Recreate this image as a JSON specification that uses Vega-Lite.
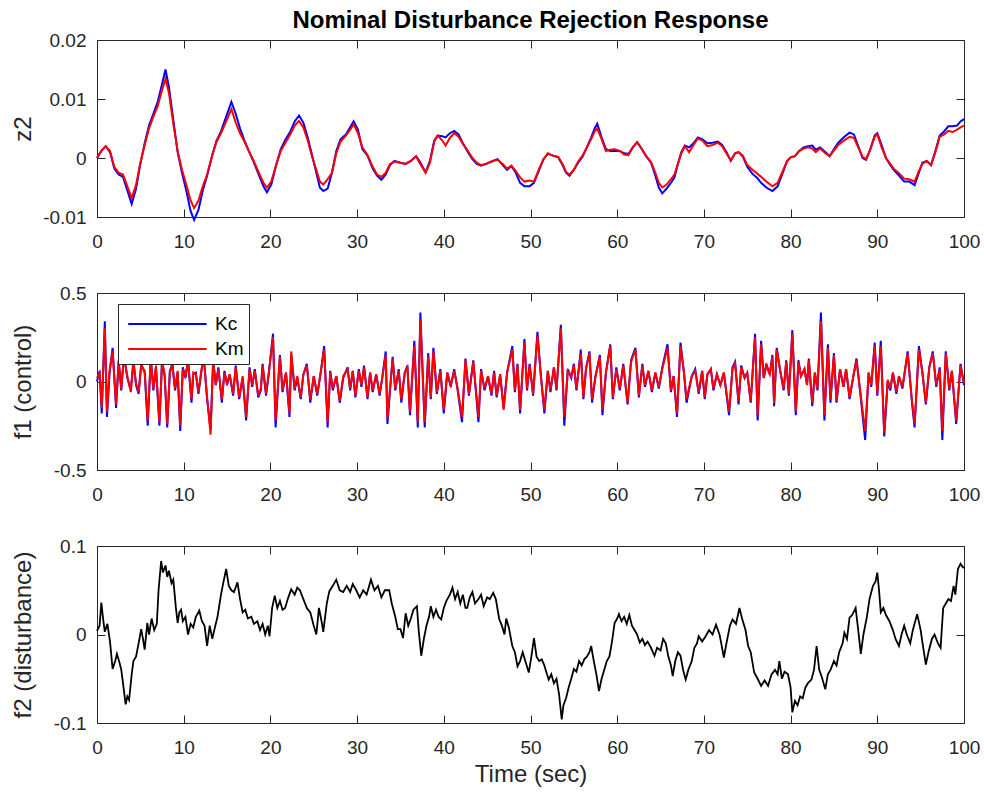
{
"$schema": "https://vega.github.io/schema/vega-lite/v6.json",
"background": "white",
"padding": {"left": 10, "top": 9, "right": 10, "bottom": 8},
"spacing": 33,
"config": {
 "view": {"stroke": null},
 "font": "Liberation Sans",
 "axis": {"domainColor": "#262626", "tickColor": "#262626", "labelColor": "#262626", "titleColor": "#262626", "labelFont": "Liberation Sans", "titleFont": "Liberation Sans", "labelFontSize": 19, "titleFontSize": 24, "titleFontWeight": "normal", "tickSize": -8, "grid": false, "domainWidth": 1, "tickWidth": 1, "labelFlush": false, "labelOverlap": false, "labelExpr": "'' + datum.value"},
 "axisLeft": {"labelPadding": 19},
 "axisBottom": {"labelPadding": 23}
},
"resolve": {"scale": {"color": "independent"}, "legend": {"color": "independent"}},
"datasets": {
"z2": [
{"t":0,"Kc":0,"Km":0},{"t":0.5,"Kc":0.0012,"Km":0.0012},{"t":1,"Kc":0.002,"Km":0.002},{"t":1.5,"Kc":0.001,"Km":0.0012},{"t":2,"Kc":-0.0018,"Km":-0.0015},{"t":2.5,"Kc":-0.0028,"Km":-0.0025},{"t":3,"Kc":-0.0032,"Km":-0.0028},{"t":3.5,"Kc":-0.0055,"Km":-0.0048},{"t":4,"Kc":-0.0078,"Km":-0.0068},{"t":4.5,"Kc":-0.0052,"Km":-0.0046},{"t":5,"Kc":-0.001,"Km":-0.0008},{"t":5.5,"Kc":0.0025,"Km":0.0022},{"t":6,"Kc":0.0055,"Km":0.005},{"t":6.5,"Kc":0.0075,"Km":0.007},{"t":7,"Kc":0.0095,"Km":0.0088},{"t":7.5,"Kc":0.0125,"Km":0.0115},{"t":7.9,"Kc":0.015,"Km":0.0134},{"t":8.3,"Kc":0.012,"Km":0.011},{"t":8.8,"Kc":0.0065,"Km":0.0058},{"t":9.3,"Kc":0.001,"Km":0.0012},{"t":9.8,"Kc":-0.0025,"Km":-0.002},{"t":10.3,"Kc":-0.0055,"Km":-0.0045},{"t":10.8,"Kc":-0.009,"Km":-0.0072},{"t":11.2,"Kc":-0.0105,"Km":-0.0085},{"t":11.7,"Kc":-0.0088,"Km":-0.0072},{"t":12.2,"Kc":-0.0055,"Km":-0.0048},{"t":12.7,"Kc":-0.003,"Km":-0.0028},{"t":13.3,"Kc":0.0005,"Km":0.0005},{"t":13.8,"Kc":0.003,"Km":0.0028},{"t":14.3,"Kc":0.0045,"Km":0.0042},{"t":14.9,"Kc":0.007,"Km":0.0062},{"t":15.5,"Kc":0.0095,"Km":0.0083},{"t":16,"Kc":0.0075,"Km":0.006},{"t":16.5,"Kc":0.005,"Km":0.0042},{"t":17,"Kc":0.003,"Km":0.0028},{"t":17.5,"Kc":0.0012,"Km":0.0012},{"t":18.1,"Kc":-0.0008,"Km":-0.0006},{"t":18.7,"Kc":-0.003,"Km":-0.0026},{"t":19.2,"Kc":-0.0048,"Km":-0.0042},{"t":19.6,"Kc":-0.0058,"Km":-0.005},{"t":20.1,"Kc":-0.0045,"Km":-0.004},{"t":20.7,"Kc":-0.001,"Km":-0.001},{"t":21.2,"Kc":0.0015,"Km":0.0012},{"t":21.7,"Kc":0.003,"Km":0.0025},{"t":22.3,"Kc":0.0045,"Km":0.004},{"t":22.8,"Kc":0.0062,"Km":0.0055},{"t":23.3,"Kc":0.0072,"Km":0.0063},{"t":23.8,"Kc":0.006,"Km":0.0052},{"t":24.3,"Kc":0.0035,"Km":0.003},{"t":24.8,"Kc":0.0005,"Km":0.0002},{"t":25.3,"Kc":-0.0025,"Km":-0.002},{"t":25.7,"Kc":-0.005,"Km":-0.004},{"t":26.1,"Kc":-0.0056,"Km":-0.0045},{"t":26.6,"Kc":-0.0052,"Km":-0.0036},{"t":27.1,"Kc":-0.0025,"Km":-0.0025},{"t":27.6,"Kc":0.0012,"Km":0.0008},{"t":28.1,"Kc":0.0032,"Km":0.0028},{"t":28.7,"Kc":0.004,"Km":0.0038},{"t":29.2,"Kc":0.0052,"Km":0.0048},{"t":29.6,"Kc":0.0062,"Km":0.0057},{"t":30.1,"Kc":0.0048,"Km":0.0042},{"t":30.6,"Kc":0.0015,"Km":0.0018},{"t":31.2,"Kc":0.0004,"Km":0.0005},{"t":31.8,"Kc":-0.0018,"Km":-0.0015},{"t":32.3,"Kc":-0.003,"Km":-0.0028},{"t":32.8,"Kc":-0.0037,"Km":-0.0032},{"t":33.3,"Kc":-0.0028,"Km":-0.0025},{"t":33.8,"Kc":-0.0012,"Km":-0.001},{"t":34.3,"Kc":-0.0005,"Km":-0.0006},{"t":35,"Kc":-0.0008,"Km":-0.0008},{"t":35.6,"Kc":-0.001,"Km":-0.001},{"t":36.2,"Kc":-0.0005,"Km":-0.0005},{"t":36.8,"Kc":0.0003,"Km":0.0003},{"t":37.2,"Kc":-0.0005,"Km":-0.0008},{"t":37.9,"Kc":-0.0024,"Km":-0.0025},{"t":38.4,"Kc":-0.0005,"Km":-0.0008},{"t":38.9,"Kc":0.003,"Km":0.0028},{"t":39.3,"Kc":0.0038,"Km":0.0038},{"t":39.8,"Kc":0.0037,"Km":0.003},{"t":40.2,"Kc":0.0035,"Km":0.0021},{"t":40.7,"Kc":0.0042,"Km":0.0034},{"t":41.2,"Kc":0.0046,"Km":0.0042},{"t":41.7,"Kc":0.004,"Km":0.0036},{"t":42.2,"Kc":0.0025,"Km":0.0024},{"t":42.7,"Kc":0.0012,"Km":0.0014},{"t":43.3,"Kc":-0.0002,"Km":0},{"t":43.8,"Kc":-0.001,"Km":-0.0008},{"t":44.3,"Kc":-0.0013,"Km":-0.0012},{"t":44.9,"Kc":-0.001,"Km":-0.001},{"t":45.5,"Kc":-0.0006,"Km":-0.0006},{"t":46.2,"Kc":-0.0002,"Km":-0.0003},{"t":46.8,"Kc":-0.0012,"Km":-0.001},{"t":47.3,"Kc":-0.002,"Km":-0.0018},{"t":47.8,"Kc":-0.0014,"Km":-0.0013},{"t":48.3,"Kc":-0.0025,"Km":-0.0022},{"t":48.8,"Kc":-0.0042,"Km":-0.0033},{"t":49.3,"Kc":-0.0048,"Km":-0.004},{"t":49.9,"Kc":-0.0048,"Km":-0.0038},{"t":50.4,"Kc":-0.0042,"Km":-0.004},{"t":51,"Kc":-0.002,"Km":-0.0018},{"t":51.5,"Kc":-0.0002,"Km":-0.0002},{"t":52,"Kc":0.0007,"Km":0.0008},{"t":52.6,"Kc":0.0004,"Km":0.0004},{"t":53.2,"Kc":0.0001,"Km":0.0002},{"t":53.7,"Kc":-0.0012,"Km":-0.001},{"t":54.1,"Kc":-0.0025,"Km":-0.0024},{"t":54.5,"Kc":-0.003,"Km":-0.0028},{"t":55,"Kc":-0.002,"Km":-0.002},{"t":55.5,"Kc":-0.0008,"Km":-0.0006},{"t":56,"Kc":0.0002,"Km":0.0004},{"t":56.5,"Kc":0.0018,"Km":0.0018},{"t":57,"Kc":0.0035,"Km":0.0032},{"t":57.4,"Kc":0.005,"Km":0.0045},{"t":57.7,"Kc":0.0058,"Km":0.005},{"t":58.2,"Kc":0.0035,"Km":0.0032},{"t":58.7,"Kc":0.0015,"Km":0.0012},{"t":59.2,"Kc":0.0012,"Km":0.0014},{"t":59.7,"Kc":0.0012,"Km":0.0015},{"t":60.3,"Kc":0.0012,"Km":0.0012},{"t":60.8,"Kc":0.0008,"Km":0.0006},{"t":61.3,"Kc":0.0007,"Km":0.0005},{"t":61.8,"Kc":0.0018,"Km":0.0018},{"t":62.3,"Kc":0.0027,"Km":0.0027},{"t":62.8,"Kc":0.0016,"Km":0.0016},{"t":63.3,"Kc":0.0004,"Km":0.0004},{"t":63.9,"Kc":-0.0008,"Km":-0.0007},{"t":64.4,"Kc":-0.003,"Km":-0.0025},{"t":64.8,"Kc":-0.005,"Km":-0.0042},{"t":65.2,"Kc":-0.006,"Km":-0.005},{"t":65.7,"Kc":-0.0052,"Km":-0.0045},{"t":66.2,"Kc":-0.0042,"Km":-0.0036},{"t":66.6,"Kc":-0.0033,"Km":-0.0028},{"t":67,"Kc":-0.001,"Km":-0.001},{"t":67.4,"Kc":0.001,"Km":0.0008},{"t":67.8,"Kc":0.0021,"Km":0.002},{"t":68.3,"Kc":0.0018,"Km":0.001},{"t":68.8,"Kc":0.0025,"Km":0.0022},{"t":69.3,"Kc":0.0035,"Km":0.0033},{"t":69.8,"Kc":0.0032,"Km":0.003},{"t":70.4,"Kc":0.0025,"Km":0.002},{"t":71,"Kc":0.0026,"Km":0.0022},{"t":71.6,"Kc":0.0028,"Km":0.0026},{"t":72.1,"Kc":0.0022,"Km":0.002},{"t":72.6,"Kc":0.001,"Km":0.0008},{"t":73.1,"Kc":-0.0005,"Km":-0.0004},{"t":73.6,"Kc":0.0008,"Km":0.0008},{"t":74,"Kc":0.001,"Km":0.001},{"t":74.5,"Kc":0.0002,"Km":0.0004},{"t":75,"Kc":-0.0015,"Km":-0.0012},{"t":75.6,"Kc":-0.0027,"Km":-0.002},{"t":76.1,"Kc":-0.0033,"Km":-0.0026},{"t":76.6,"Kc":-0.0042,"Km":-0.0032},{"t":77.2,"Kc":-0.005,"Km":-0.004},{"t":77.9,"Kc":-0.0056,"Km":-0.0048},{"t":78.5,"Kc":-0.0048,"Km":-0.0042},{"t":79.1,"Kc":-0.0025,"Km":-0.0022},{"t":79.6,"Kc":-0.0005,"Km":-0.0005},{"t":80,"Kc":0.0001,"Km":0.0001},{"t":80.5,"Kc":0.0003,"Km":0.0003},{"t":81,"Kc":0.0012,"Km":0.0012},{"t":81.5,"Kc":0.0018,"Km":0.0016},{"t":82,"Kc":0.002,"Km":0.0018},{"t":82.5,"Kc":0.0021,"Km":0.0016},{"t":82.9,"Kc":0.0014,"Km":0.001},{"t":83.4,"Kc":0.0018,"Km":0.0016},{"t":84,"Kc":0.001,"Km":0.0008},{"t":84.5,"Kc":0.0003,"Km":0.0003},{"t":85,"Kc":0.0015,"Km":0.0013},{"t":85.5,"Kc":0.0026,"Km":0.0022},{"t":86.2,"Kc":0.0036,"Km":0.003},{"t":86.8,"Kc":0.0043,"Km":0.0036},{"t":87.3,"Kc":0.004,"Km":0.0034},{"t":87.8,"Kc":0.002,"Km":0.0018},{"t":88.3,"Kc":0,"Km":0.0002},{"t":88.7,"Kc":-0.0003,"Km":-0.0002},{"t":89.2,"Kc":0.0015,"Km":0.0015},{"t":89.7,"Kc":0.0038,"Km":0.0036},{"t":90,"Kc":0.0042,"Km":0.004},{"t":90.5,"Kc":0.0022,"Km":0.0018},{"t":91,"Kc":0,"Km":0},{"t":91.5,"Kc":-0.0012,"Km":-0.001},{"t":91.9,"Kc":-0.002,"Km":-0.0018},{"t":92.5,"Kc":-0.003,"Km":-0.0026},{"t":93.1,"Kc":-0.004,"Km":-0.0035},{"t":93.7,"Kc":-0.004,"Km":-0.0036},{"t":94.3,"Kc":-0.0046,"Km":-0.004},{"t":94.8,"Kc":-0.0025,"Km":-0.0022},{"t":95.2,"Kc":-0.0008,"Km":-0.001},{"t":95.7,"Kc":-0.0005,"Km":-0.0005},{"t":96.2,"Kc":-0.0012,"Km":-0.0012},{"t":96.7,"Kc":0.0012,"Km":0.001},{"t":97.2,"Kc":0.0038,"Km":0.0036},{"t":97.7,"Kc":0.0045,"Km":0.004},{"t":98.2,"Kc":0.0054,"Km":0.0046},{"t":98.7,"Kc":0.0054,"Km":0.0044},{"t":99.2,"Kc":0.0055,"Km":0.0048},{"t":99.6,"Kc":0.0062,"Km":0.0052},{"t":100,"Kc":0.0066,"Km":0.0055}
],
"f1": [
{"t":0,"Kc":0,"Km":0.02},{"t":0.3,"Kc":0.06,"Km":0.05},{"t":0.55,"Kc":-0.18,"Km":-0.15},{"t":0.9,"Kc":0.34,"Km":0.3},{"t":1.15,"Kc":-0.2,"Km":-0.17},{"t":1.45,"Kc":0.05,"Km":0.06},{"t":1.8,"Kc":0.19,"Km":0.17},{"t":2.2,"Kc":-0.15,"Km":-0.13},{"t":2.5,"Kc":0.12,"Km":0.11},{"t":2.8,"Kc":-0.05,"Km":-0.04},{"t":3.1,"Kc":0.15,"Km":0.14},{"t":3.5,"Kc":0.02,"Km":0.03},{"t":3.9,"Kc":-0.05,"Km":-0.06},{"t":4.2,"Kc":0.12,"Km":0.11},{"t":4.5,"Kc":-0.02,"Km":-0.01},{"t":4.8,"Kc":-0.07,"Km":-0.06},{"t":5.1,"Kc":0.1,"Km":0.09},{"t":5.5,"Kc":0.05,"Km":0.06},{"t":5.85,"Kc":-0.25,"Km":-0.22},{"t":6.2,"Kc":0.14,"Km":0.13},{"t":6.5,"Kc":-0.05,"Km":-0.04},{"t":6.8,"Kc":0.08,"Km":0.09},{"t":7.2,"Kc":-0.25,"Km":-0.23},{"t":7.5,"Kc":0.12,"Km":0.11},{"t":7.8,"Kc":0.03,"Km":0.04},{"t":8.1,"Kc":-0.26,"Km":-0.24},{"t":8.4,"Kc":0.06,"Km":0.05},{"t":8.7,"Kc":0.1,"Km":0.09},{"t":9,"Kc":-0.05,"Km":-0.04},{"t":9.3,"Kc":0.05,"Km":0.06},{"t":9.6,"Kc":-0.28,"Km":-0.25},{"t":9.9,"Kc":0.08,"Km":0.07},{"t":10.2,"Kc":0.02,"Km":0.03},{"t":10.5,"Kc":0.12,"Km":0.11},{"t":10.9,"Kc":-0.12,"Km":-0.1},{"t":11.1,"Kc":0.04,"Km":0.05},{"t":11.4,"Kc":0.05,"Km":0.04},{"t":11.7,"Kc":-0.07,"Km":-0.06},{"t":12,"Kc":0.04,"Km":0.05},{"t":12.3,"Kc":0.15,"Km":0.14},{"t":12.7,"Kc":-0.1,"Km":-0.09},{"t":13.1,"Kc":-0.27,"Km":-0.3},{"t":13.4,"Kc":0.12,"Km":0.12},{"t":13.7,"Kc":-0.02,"Km":-0.02},{"t":14,"Kc":0.08,"Km":0.07},{"t":14.4,"Kc":-0.12,"Km":-0.1},{"t":14.7,"Kc":0.06,"Km":0.05},{"t":15,"Kc":-0.02,"Km":-0.01},{"t":15.3,"Kc":0.04,"Km":0.04},{"t":15.7,"Kc":-0.08,"Km":-0.07},{"t":16,"Kc":0.09,"Km":0.08},{"t":16.4,"Kc":-0.1,"Km":-0.09},{"t":16.8,"Kc":0.02,"Km":0.03},{"t":17.2,"Kc":-0.22,"Km":-0.2},{"t":17.6,"Kc":0.08,"Km":0.07},{"t":17.9,"Kc":-0.03,"Km":-0.02},{"t":18.2,"Kc":0.07,"Km":0.06},{"t":18.6,"Kc":-0.09,"Km":-0.08},{"t":18.9,"Kc":-0.05,"Km":-0.04},{"t":19.1,"Kc":0.1,"Km":0.09},{"t":19.5,"Kc":-0.08,"Km":-0.07},{"t":19.8,"Kc":0.04,"Km":0.04},{"t":20.3,"Kc":0.27,"Km":0.25},{"t":20.6,"Kc":-0.26,"Km":-0.22},{"t":21.1,"Kc":0.15,"Km":0.14},{"t":21.4,"Kc":-0.06,"Km":-0.05},{"t":21.8,"Kc":0.05,"Km":0.05},{"t":22.2,"Kc":-0.2,"Km":-0.18},{"t":22.4,"Kc":0.15,"Km":0.17},{"t":22.8,"Kc":-0.05,"Km":-0.04},{"t":23.1,"Kc":0.02,"Km":0.03},{"t":23.5,"Kc":-0.1,"Km":-0.09},{"t":23.8,"Kc":0.04,"Km":0.04},{"t":24.2,"Kc":0.1,"Km":0.09},{"t":24.6,"Kc":-0.12,"Km":-0.1},{"t":25,"Kc":0.03,"Km":0.03},{"t":25.4,"Kc":-0.08,"Km":-0.07},{"t":25.8,"Kc":0.05,"Km":0.05},{"t":26.2,"Kc":0.2,"Km":0.18},{"t":26.6,"Kc":-0.26,"Km":-0.23},{"t":26.9,"Kc":0.06,"Km":0.05},{"t":27.2,"Kc":-0.05,"Km":-0.04},{"t":27.6,"Kc":0.03,"Km":0.03},{"t":28,"Kc":-0.12,"Km":-0.11},{"t":28.4,"Kc":0.02,"Km":0.03},{"t":28.9,"Kc":0.08,"Km":0.07},{"t":29.2,"Kc":-0.05,"Km":-0.04},{"t":29.5,"Kc":0.06,"Km":0.06},{"t":29.8,"Kc":-0.09,"Km":-0.08},{"t":30.2,"Kc":0.07,"Km":0.06},{"t":30.5,"Kc":-0.03,"Km":-0.02},{"t":30.8,"Kc":0.09,"Km":0.08},{"t":31.2,"Kc":-0.1,"Km":-0.09},{"t":31.5,"Kc":0.05,"Km":0.05},{"t":31.8,"Kc":-0.06,"Km":-0.05},{"t":32.2,"Kc":0.04,"Km":0.04},{"t":32.6,"Kc":-0.08,"Km":-0.07},{"t":32.9,"Kc":0.02,"Km":0.02},{"t":33.3,"Kc":0.17,"Km":0.15},{"t":33.5,"Kc":-0.24,"Km":-0.21},{"t":34.1,"Kc":0.14,"Km":0.13},{"t":34.4,"Kc":-0.05,"Km":-0.04},{"t":34.8,"Kc":0.07,"Km":0.06},{"t":35.1,"Kc":-0.12,"Km":-0.1},{"t":35.5,"Kc":0.05,"Km":0.05},{"t":35.8,"Kc":0.09,"Km":0.08},{"t":36.1,"Kc":-0.19,"Km":-0.17},{"t":36.6,"Kc":0.23,"Km":0.2},{"t":37,"Kc":-0.26,"Km":-0.23},{"t":37.3,"Kc":0.39,"Km":0.35},{"t":37.8,"Kc":-0.26,"Km":-0.23},{"t":38.2,"Kc":0.16,"Km":0.14},{"t":38.5,"Kc":-0.1,"Km":-0.09},{"t":38.8,"Kc":0.19,"Km":0.17},{"t":39.2,"Kc":-0.07,"Km":-0.06},{"t":39.6,"Kc":0.07,"Km":0.06},{"t":40,"Kc":-0.18,"Km":-0.16},{"t":40.4,"Kc":0.05,"Km":0.05},{"t":40.8,"Kc":-0.03,"Km":-0.02},{"t":41.2,"Kc":0.07,"Km":0.06},{"t":41.6,"Kc":-0.05,"Km":-0.04},{"t":42.1,"Kc":-0.23,"Km":-0.2},{"t":42.5,"Kc":0.13,"Km":0.12},{"t":42.9,"Kc":-0.08,"Km":-0.07},{"t":43.4,"Kc":0.12,"Km":0.11},{"t":44,"Kc":-0.23,"Km":-0.2},{"t":44.3,"Kc":0.07,"Km":0.06},{"t":44.7,"Kc":-0.05,"Km":-0.04},{"t":45.1,"Kc":0.03,"Km":0.03},{"t":45.5,"Kc":-0.08,"Km":-0.07},{"t":45.8,"Kc":0.06,"Km":0.05},{"t":46.1,"Kc":-0.09,"Km":-0.08},{"t":46.5,"Kc":0.04,"Km":0.04},{"t":46.9,"Kc":-0.15,"Km":-0.16},{"t":47.3,"Kc":0.05,"Km":0.05},{"t":47.9,"Kc":0.2,"Km":0.18},{"t":48.2,"Kc":-0.06,"Km":-0.05},{"t":48.5,"Kc":0.1,"Km":0.09},{"t":48.8,"Kc":-0.18,"Km":-0.16},{"t":49.3,"Kc":0.24,"Km":0.22},{"t":49.6,"Kc":-0.05,"Km":-0.04},{"t":49.9,"Kc":0.1,"Km":0.09},{"t":50.3,"Kc":-0.08,"Km":-0.07},{"t":50.8,"Kc":0.28,"Km":0.26},{"t":51.2,"Kc":0.03,"Km":0.03},{"t":51.6,"Kc":-0.18,"Km":-0.16},{"t":52,"Kc":0.06,"Km":0.06},{"t":52.3,"Kc":-0.06,"Km":-0.05},{"t":52.7,"Kc":0.08,"Km":0.08},{"t":53,"Kc":-0.05,"Km":-0.04},{"t":53.5,"Kc":0.32,"Km":0.3},{"t":53.9,"Kc":-0.25,"Km":-0.2},{"t":54.3,"Kc":0.07,"Km":0.06},{"t":54.7,"Kc":0.02,"Km":0.03},{"t":55,"Kc":0.1,"Km":0.09},{"t":55.3,"Kc":-0.05,"Km":-0.04},{"t":55.8,"Kc":0.18,"Km":0.16},{"t":56.1,"Kc":-0.1,"Km":-0.09},{"t":56.4,"Kc":0.07,"Km":0.07},{"t":56.8,"Kc":0.17,"Km":0.16},{"t":57.1,"Kc":-0.12,"Km":-0.1},{"t":57.5,"Kc":0.03,"Km":0.03},{"t":58,"Kc":0.15,"Km":0.14},{"t":58.3,"Kc":-0.19,"Km":-0.16},{"t":58.7,"Kc":0.05,"Km":0.05},{"t":59.2,"Kc":0.21,"Km":0.2},{"t":59.5,"Kc":-0.1,"Km":-0.09},{"t":59.9,"Kc":0.08,"Km":0.07},{"t":60.3,"Kc":-0.05,"Km":-0.04},{"t":60.7,"Kc":0.1,"Km":0.09},{"t":61.2,"Kc":-0.13,"Km":-0.12},{"t":61.6,"Kc":0.12,"Km":0.11},{"t":62.1,"Kc":0.19,"Km":0.18},{"t":62.5,"Kc":-0.09,"Km":-0.08},{"t":62.9,"Kc":0.1,"Km":0.09},{"t":63.2,"Kc":-0.03,"Km":-0.02},{"t":63.6,"Kc":0.06,"Km":0.06},{"t":64,"Kc":-0.06,"Km":-0.05},{"t":64.4,"Kc":0.05,"Km":0.05},{"t":64.8,"Kc":-0.04,"Km":-0.03},{"t":65.2,"Kc":0.08,"Km":0.07},{"t":65.8,"Kc":0.21,"Km":0.19},{"t":66.2,"Kc":-0.06,"Km":-0.05},{"t":66.5,"Kc":0.03,"Km":0.03},{"t":66.9,"Kc":-0.2,"Km":-0.18},{"t":67.3,"Kc":0.22,"Km":0.2},{"t":67.7,"Kc":0.05,"Km":0.05},{"t":68,"Kc":-0.12,"Km":-0.1},{"t":68.6,"Kc":0.03,"Km":0.03},{"t":69,"Kc":0.07,"Km":0.06},{"t":69.4,"Kc":-0.07,"Km":-0.06},{"t":69.8,"Kc":0.06,"Km":0.06},{"t":70.1,"Kc":-0.1,"Km":-0.09},{"t":70.4,"Kc":0.04,"Km":0.04},{"t":70.8,"Kc":0.07,"Km":0.07},{"t":71.1,"Kc":-0.05,"Km":-0.04},{"t":71.5,"Kc":0.04,"Km":0.04},{"t":71.9,"Kc":-0.02,"Km":-0.02},{"t":72.3,"Kc":0.05,"Km":0.05},{"t":72.9,"Kc":-0.19,"Km":-0.17},{"t":73.3,"Kc":0.08,"Km":0.07},{"t":73.6,"Kc":0.11,"Km":0.1},{"t":74,"Kc":-0.13,"Km":-0.11},{"t":74.3,"Kc":0.09,"Km":0.08},{"t":74.7,"Kc":0.02,"Km":0.02},{"t":75,"Kc":0.05,"Km":0.05},{"t":75.4,"Kc":-0.12,"Km":-0.11},{"t":75.9,"Kc":0.27,"Km":0.25},{"t":76.2,"Kc":-0.22,"Km":-0.19},{"t":76.6,"Kc":0.23,"Km":0.21},{"t":76.9,"Kc":0.02,"Km":0.02},{"t":77.2,"Kc":0.1,"Km":0.09},{"t":77.6,"Kc":0.04,"Km":0.04},{"t":77.9,"Kc":0.15,"Km":0.14},{"t":78.1,"Kc":-0.14,"Km":-0.12},{"t":78.4,"Kc":0.19,"Km":0.18},{"t":78.8,"Kc":0.06,"Km":0.06},{"t":79.2,"Kc":-0.05,"Km":-0.04},{"t":79.5,"Kc":0.12,"Km":0.11},{"t":79.8,"Kc":-0.08,"Km":-0.07},{"t":80.2,"Kc":0.29,"Km":0.27},{"t":80.6,"Kc":-0.19,"Km":-0.17},{"t":80.9,"Kc":0.12,"Km":0.11},{"t":81.2,"Kc":0.03,"Km":0.03},{"t":81.6,"Kc":0.07,"Km":0.07},{"t":81.9,"Kc":-0.02,"Km":-0.02},{"t":82.1,"Kc":0.13,"Km":0.12},{"t":82.5,"Kc":-0.14,"Km":-0.12},{"t":82.8,"Kc":0.05,"Km":0.05},{"t":83.1,"Kc":-0.05,"Km":-0.04},{"t":83.5,"Kc":0.39,"Km":0.34},{"t":83.9,"Kc":-0.22,"Km":-0.19},{"t":84.3,"Kc":0.21,"Km":0.19},{"t":84.6,"Kc":-0.12,"Km":-0.1},{"t":85,"Kc":0.16,"Km":0.15},{"t":85.3,"Kc":-0.12,"Km":-0.11},{"t":85.7,"Kc":0.07,"Km":0.07},{"t":86.1,"Kc":-0.03,"Km":-0.03},{"t":86.4,"Kc":0.07,"Km":0.07},{"t":86.8,"Kc":-0.1,"Km":-0.09},{"t":87.2,"Kc":0.02,"Km":0.02},{"t":87.6,"Kc":0.13,"Km":0.12},{"t":88,"Kc":-0.05,"Km":-0.04},{"t":88.6,"Kc":-0.33,"Km":-0.28},{"t":89,"Kc":0.05,"Km":0.05},{"t":89.3,"Kc":-0.03,"Km":-0.02},{"t":89.7,"Kc":0.22,"Km":0.2},{"t":90,"Kc":-0.08,"Km":-0.07},{"t":90.4,"Kc":0.23,"Km":0.2},{"t":90.8,"Kc":-0.31,"Km":-0.29},{"t":91.2,"Kc":0,"Km":0.01},{"t":91.5,"Kc":-0.05,"Km":-0.04},{"t":91.8,"Kc":0.05,"Km":0.05},{"t":92.2,"Kc":-0.07,"Km":-0.06},{"t":92.5,"Kc":0.03,"Km":0.03},{"t":92.9,"Kc":-0.04,"Km":-0.03},{"t":93.5,"Kc":0.17,"Km":0.16},{"t":94,"Kc":-0.12,"Km":-0.11},{"t":94.3,"Kc":-0.26,"Km":-0.24},{"t":94.8,"Kc":0.2,"Km":0.18},{"t":95.2,"Kc":0.05,"Km":0.05},{"t":95.6,"Kc":-0.13,"Km":-0.12},{"t":96,"Kc":0.08,"Km":0.08},{"t":96.4,"Kc":0.17,"Km":0.16},{"t":96.8,"Kc":-0.03,"Km":-0.02},{"t":97.2,"Kc":0.08,"Km":0.07},{"t":97.5,"Kc":-0.33,"Km":-0.28},{"t":97.9,"Kc":0.17,"Km":0.16},{"t":98.3,"Kc":-0.05,"Km":-0.04},{"t":98.6,"Kc":0.06,"Km":0.06},{"t":99.1,"Kc":-0.24,"Km":-0.22},{"t":99.6,"Kc":0.1,"Km":0.09},{"t":100,"Kc":-0.02,"Km":-0.01}
],
"f2": [
{"t":0,"v":0.004},{"t":0.3,"v":0.01},{"t":0.5,"v":0.036},{"t":0.7,"v":0.018},{"t":0.9,"v":0.003},{"t":1.2,"v":0.012},{"t":1.5,"v":-0.008},{"t":1.8,"v":-0.039},{"t":2.1,"v":-0.03},{"t":2.3,"v":-0.022},{"t":2.6,"v":-0.032},{"t":2.8,"v":-0.04},{"t":3,"v":-0.055},{"t":3.3,"v":-0.079},{"t":3.5,"v":-0.07},{"t":3.7,"v":-0.074},{"t":4,"v":-0.045},{"t":4.2,"v":-0.03},{"t":4.5,"v":-0.025},{"t":4.8,"v":-0.01},{"t":5.1,"v":0.006},{"t":5.3,"v":-0.005},{"t":5.5,"v":-0.017},{"t":5.8,"v":0.013},{"t":6,"v":0},{"t":6.3,"v":0.018},{"t":6.6,"v":0.005},{"t":6.9,"v":0.012},{"t":7.1,"v":0.05},{"t":7.4,"v":0.083},{"t":7.6,"v":0.07},{"t":7.9,"v":0.078},{"t":8.1,"v":0.065},{"t":8.3,"v":0.072},{"t":8.6,"v":0.058},{"t":8.8,"v":0.062},{"t":9.1,"v":0.03},{"t":9.3,"v":0.013},{"t":9.5,"v":0.025},{"t":9.7,"v":0.028},{"t":9.9,"v":0.015},{"t":10.2,"v":0.02},{"t":10.5,"v":0},{"t":10.8,"v":0.012},{"t":11.1,"v":0.008},{"t":11.4,"v":0.02},{"t":11.8,"v":0.027},{"t":12.1,"v":0.015},{"t":12.4,"v":0.01},{"t":12.7,"v":-0.013},{"t":13,"v":0.01},{"t":13.3,"v":-0.005},{"t":13.6,"v":0.008},{"t":13.9,"v":0.02},{"t":14.3,"v":0.045},{"t":14.6,"v":0.06},{"t":14.9,"v":0.074},{"t":15.2,"v":0.055},{"t":15.5,"v":0.05},{"t":15.8,"v":0.048},{"t":16.2,"v":0.059},{"t":16.5,"v":0.04},{"t":16.8,"v":0.025},{"t":17.1,"v":0.028},{"t":17.4,"v":0.018},{"t":17.8,"v":0.02},{"t":18.1,"v":0.012},{"t":18.5,"v":0.015},{"t":18.8,"v":0.005},{"t":19.1,"v":0.012},{"t":19.4,"v":0},{"t":19.7,"v":0.01},{"t":19.9,"v":-0.002},{"t":20.2,"v":0.03},{"t":20.5,"v":0.044},{"t":20.8,"v":0.03},{"t":21.1,"v":0.038},{"t":21.4,"v":0.028},{"t":21.7,"v":0.03},{"t":22,"v":0.04},{"t":22.4,"v":0.051},{"t":22.8,"v":0.045},{"t":23.1,"v":0.053},{"t":23.4,"v":0.05},{"t":23.8,"v":0.04},{"t":24.2,"v":0.03},{"t":24.6,"v":0.025},{"t":25,"v":0.01},{"t":25.3,"v":0},{"t":25.6,"v":0.03},{"t":25.9,"v":0.015},{"t":26.1,"v":0.003},{"t":26.5,"v":0.035},{"t":26.8,"v":0.049},{"t":27.2,"v":0.055},{"t":27.6,"v":0.062},{"t":28,"v":0.05},{"t":28.4,"v":0.048},{"t":28.8,"v":0.055},{"t":29.2,"v":0.048},{"t":29.5,"v":0.057},{"t":29.9,"v":0.05},{"t":30.3,"v":0.042},{"t":30.7,"v":0.05},{"t":31.1,"v":0.045},{"t":31.6,"v":0.062},{"t":32,"v":0.05},{"t":32.4,"v":0.055},{"t":32.8,"v":0.042},{"t":33.2,"v":0.05},{"t":33.7,"v":0.05},{"t":34,"v":0.035},{"t":34.4,"v":0.02},{"t":34.7,"v":0.006},{"t":35,"v":0.006},{"t":35.3,"v":-0.004},{"t":35.6,"v":0.024},{"t":35.9,"v":0.01},{"t":36.2,"v":0.018},{"t":36.5,"v":0.028},{"t":36.9,"v":0.032},{"t":37.1,"v":0.005},{"t":37.4,"v":-0.024},{"t":37.7,"v":-0.005},{"t":38,"v":0.01},{"t":38.3,"v":0.02},{"t":38.5,"v":0.032},{"t":38.8,"v":0.02},{"t":39.1,"v":0.028},{"t":39.4,"v":0.02},{"t":39.7,"v":0.017},{"t":40,"v":0.03},{"t":40.3,"v":0.038},{"t":40.7,"v":0.045},{"t":41,"v":0.053},{"t":41.3,"v":0.04},{"t":41.6,"v":0.048},{"t":41.9,"v":0.035},{"t":42.2,"v":0.045},{"t":42.5,"v":0.03},{"t":42.7,"v":0.03},{"t":43,"v":0.042},{"t":43.3,"v":0.048},{"t":43.6,"v":0.035},{"t":44,"v":0.04},{"t":44.3,"v":0.045},{"t":44.6,"v":0.032},{"t":45,"v":0.042},{"t":45.3,"v":0.04},{"t":45.7,"v":0.047},{"t":46,"v":0.04},{"t":46.4,"v":0.017},{"t":46.7,"v":0.01},{"t":47,"v":0},{"t":47.2,"v":0.018},{"t":47.5,"v":0.008},{"t":47.9,"v":-0.013},{"t":48.2,"v":-0.02},{"t":48.5,"v":-0.036},{"t":48.8,"v":-0.03},{"t":49.1,"v":-0.02},{"t":49.4,"v":-0.03},{"t":49.8,"v":-0.043},{"t":50.1,"v":-0.025},{"t":50.4,"v":-0.004},{"t":50.7,"v":-0.025},{"t":51,"v":-0.03},{"t":51.3,"v":-0.028},{"t":51.6,"v":-0.035},{"t":51.9,"v":-0.045},{"t":52.1,"v":-0.051},{"t":52.4,"v":-0.045},{"t":52.7,"v":-0.055},{"t":53,"v":-0.05},{"t":53.3,"v":-0.068},{"t":53.6,"v":-0.096},{"t":53.8,"v":-0.08},{"t":54.1,"v":-0.072},{"t":54.4,"v":-0.06},{"t":54.7,"v":-0.05},{"t":55,"v":-0.039},{"t":55.3,"v":-0.042},{"t":55.6,"v":-0.03},{"t":55.9,"v":-0.035},{"t":56.2,"v":-0.028},{"t":56.5,"v":-0.025},{"t":56.8,"v":-0.02},{"t":57,"v":-0.013},{"t":57.3,"v":-0.03},{"t":57.6,"v":-0.045},{"t":57.9,"v":-0.064},{"t":58.2,"v":-0.05},{"t":58.5,"v":-0.04},{"t":58.8,"v":-0.03},{"t":59.1,"v":-0.025},{"t":59.4,"v":-0.008},{"t":59.7,"v":0.013},{"t":60,"v":0.018},{"t":60.2,"v":0.023},{"t":60.5,"v":0.015},{"t":60.8,"v":0.02},{"t":61.1,"v":0.012},{"t":61.4,"v":0.022},{"t":61.7,"v":0.01},{"t":62,"v":0.005},{"t":62.3,"v":0},{"t":62.6,"v":-0.009},{"t":62.9,"v":-0.005},{"t":63.2,"v":-0.012},{"t":63.5,"v":-0.008},{"t":63.9,"v":-0.015},{"t":64.3,"v":-0.024},{"t":64.6,"v":-0.015},{"t":65,"v":-0.018},{"t":65.3,"v":-0.005},{"t":65.6,"v":-0.01},{"t":65.9,"v":-0.025},{"t":66.2,"v":-0.035},{"t":66.4,"v":-0.047},{"t":66.7,"v":-0.03},{"t":67,"v":-0.02},{"t":67.3,"v":-0.024},{"t":67.6,"v":-0.04},{"t":67.9,"v":-0.051},{"t":68.2,"v":-0.04},{"t":68.6,"v":-0.03},{"t":68.9,"v":-0.015},{"t":69.2,"v":-0.01},{"t":69.4,"v":-0.002},{"t":69.8,"v":-0.008},{"t":70.2,"v":-0.002},{"t":70.6,"v":0.005},{"t":71,"v":0},{"t":71.4,"v":0.011},{"t":71.8,"v":0},{"t":72,"v":-0.01},{"t":72.3,"v":-0.026},{"t":72.6,"v":-0.01},{"t":73,"v":0.01},{"t":73.3,"v":0.017},{"t":73.7,"v":0.012},{"t":74.1,"v":0.03},{"t":74.4,"v":0.018},{"t":74.8,"v":0.005},{"t":75.1,"v":-0.013},{"t":75.4,"v":-0.02},{"t":75.8,"v":-0.043},{"t":76.2,"v":-0.05},{"t":76.6,"v":-0.058},{"t":77,"v":-0.052},{"t":77.4,"v":-0.058},{"t":77.8,"v":-0.045},{"t":78.2,"v":-0.04},{"t":78.5,"v":-0.045},{"t":78.7,"v":-0.03},{"t":79,"v":-0.05},{"t":79.3,"v":-0.042},{"t":79.7,"v":-0.045},{"t":80,"v":-0.06},{"t":80.2,"v":-0.088},{"t":80.5,"v":-0.075},{"t":80.8,"v":-0.08},{"t":81.1,"v":-0.07},{"t":81.4,"v":-0.072},{"t":81.7,"v":-0.06},{"t":82,"v":-0.055},{"t":82.4,"v":-0.051},{"t":82.7,"v":-0.04},{"t":83,"v":-0.013},{"t":83.3,"v":-0.04},{"t":83.6,"v":-0.048},{"t":84,"v":-0.062},{"t":84.3,"v":-0.045},{"t":84.6,"v":-0.04},{"t":85,"v":-0.03},{"t":85.3,"v":-0.035},{"t":85.6,"v":-0.02},{"t":86,"v":-0.01},{"t":86.2,"v":0.002},{"t":86.5,"v":-0.005},{"t":86.8,"v":0.019},{"t":87.1,"v":0.022},{"t":87.5,"v":0.03},{"t":87.8,"v":0.005},{"t":88.1,"v":-0.022},{"t":88.4,"v":0},{"t":88.8,"v":0.02},{"t":89.1,"v":0.04},{"t":89.5,"v":0.055},{"t":89.8,"v":0.06},{"t":90,"v":0.07},{"t":90.2,"v":0.05},{"t":90.4,"v":0.025},{"t":90.7,"v":0.03},{"t":91,"v":0.022},{"t":91.4,"v":0.015},{"t":91.8,"v":0.005},{"t":92.1,"v":-0.005},{"t":92.5,"v":-0.013},{"t":92.8,"v":0},{"t":93.1,"v":0.01},{"t":93.4,"v":0},{"t":93.8,"v":-0.01},{"t":94.1,"v":0.005},{"t":94.6,"v":0.023},{"t":95,"v":0.005},{"t":95.3,"v":-0.015},{"t":95.6,"v":-0.034},{"t":95.9,"v":-0.02},{"t":96.3,"v":-0.005},{"t":96.6,"v":0},{"t":97,"v":-0.01},{"t":97.3,"v":-0.015},{"t":97.6,"v":0.03},{"t":97.9,"v":0.035},{"t":98.2,"v":0.04},{"t":98.5,"v":0.038},{"t":98.8,"v":0.055},{"t":99,"v":0.045},{"t":99.3,"v":0.074},{"t":99.6,"v":0.08},{"t":99.8,"v":0.077},{"t":100,"v":0.075}
]
},
"vconcat": [
{
 "width": 867, "height": 177,
 "title": {"text": "Nominal Disturbance Rejection Response", "fontSize": 24, "fontWeight": "bold", "color": "#000000", "font": "Liberation Sans", "offset": -2, "anchor": "middle"},
 "data": {"name": "z2"},
 "resolve": {"axis": {"x": "independent", "y": "independent"}},
 "layer": [
  {"mark": {"type": "line", "color": "#0000ff", "strokeWidth": 2},
   "encoding": {
    "x": {"field": "t", "type": "quantitative", "scale": {"domain": [0, 100], "nice": false}, "axis": {"orient": "bottom", "values": [0,10,20,30,40,50,60,70,80,90,100], "title": null}},
    "y": {"field": "Kc", "type": "quantitative", "scale": {"domain": [-0.01, 0.02], "nice": false, "zero": false}, "axis": {"orient": "left", "values": [-0.01, 0, 0.01, 0.02], "title": "z2", "titleX": -74, "titleBaseline": "middle"}}
   }},
  {"mark": {"type": "line", "color": "#ff0000", "strokeWidth": 2},
   "encoding": {
    "x": {"field": "t", "type": "quantitative", "scale": {"domain": [0, 100], "nice": false}, "axis": {"orient": "top", "values": [0,10,20,30,40,50,60,70,80,90,100], "labels": false, "title": null}},
    "y": {"field": "Km", "type": "quantitative", "scale": {"domain": [-0.01, 0.02], "nice": false, "zero": false}, "axis": {"orient": "right", "values": [-0.01, 0, 0.01, 0.02], "labels": false, "title": null}}
   }}
 ]
},
{
 "width": 867, "height": 177,
 "data": {"name": "f1"},
 "resolve": {"axis": {"x": "independent", "y": "independent"}},
 "layer": [
  {"mark": {"type": "line", "strokeWidth": 2},
   "encoding": {
    "x": {"field": "t", "type": "quantitative", "scale": {"domain": [0, 100], "nice": false}, "axis": {"orient": "bottom", "values": [0,10,20,30,40,50,60,70,80,90,100], "title": null}},
    "y": {"field": "Kc", "type": "quantitative", "scale": {"domain": [-0.5, 0.5], "nice": false, "zero": false}, "axis": {"orient": "left", "values": [-0.5, 0, 0.5], "title": "f1 (control)", "titleX": -74, "titleBaseline": "middle"}},
    "color": {"datum": "Kc", "type": "nominal", "scale": {"domain": ["Kc", "Km"], "range": ["#0000ff", "#ff0000"]},
     "legend": {"orient": "none", "legendX": 21, "legendY": 11, "title": null, "symbolType": "M-0.7,0H4.9", "symbolSize": 784, "symbolStrokeWidth": 2, "labelOffset": 62, "labelFontSize": 19, "labelFont": "Liberation Sans", "labelColor": "#000000", "strokeColor": "#262626", "fillColor": "white", "padding": 5, "rowPadding": 0, "cornerRadius": 0}}
   }},
  {"mark": {"type": "line", "strokeWidth": 2},
   "encoding": {
    "x": {"field": "t", "type": "quantitative", "scale": {"domain": [0, 100], "nice": false}, "axis": {"orient": "top", "values": [0,10,20,30,40,50,60,70,80,90,100], "labels": false, "title": null}},
    "y": {"field": "Km", "type": "quantitative", "scale": {"domain": [-0.5, 0.5], "nice": false, "zero": false}, "axis": {"orient": "right", "values": [-0.5, 0, 0.5], "labels": false, "title": null}},
    "color": {"datum": "Km", "type": "nominal"}
   }}
 ]
},
{
 "width": 867, "height": 177,
 "data": {"name": "f2"},
 "resolve": {"axis": {"x": "independent", "y": "independent"}},
 "layer": [
  {"mark": {"type": "line", "color": "#000000", "strokeWidth": 1.8},
   "encoding": {
    "x": {"field": "t", "type": "quantitative", "scale": {"domain": [0, 100], "nice": false}, "axis": {"orient": "bottom", "values": [0,10,20,30,40,50,60,70,80,90,100], "title": "Time (sec)", "titlePadding": 5}},
    "y": {"field": "v", "type": "quantitative", "scale": {"domain": [-0.1, 0.1], "nice": false, "zero": false}, "axis": {"orient": "left", "values": [-0.1, 0, 0.1], "title": "f2 (disturbance)", "titleX": -74, "titleBaseline": "middle"}}
   }},
  {"mark": {"type": "line", "color": "#000000", "opacity": 0},
   "encoding": {
    "x": {"field": "t", "type": "quantitative", "scale": {"domain": [0, 100], "nice": false}, "axis": {"orient": "top", "values": [0,10,20,30,40,50,60,70,80,90,100], "labels": false, "title": null}},
    "y": {"field": "v", "type": "quantitative", "scale": {"domain": [-0.1, 0.1], "nice": false, "zero": false}, "axis": {"orient": "right", "values": [-0.1, 0, 0.1], "labels": false, "title": null}}
   }}
 ]
}
]
}
